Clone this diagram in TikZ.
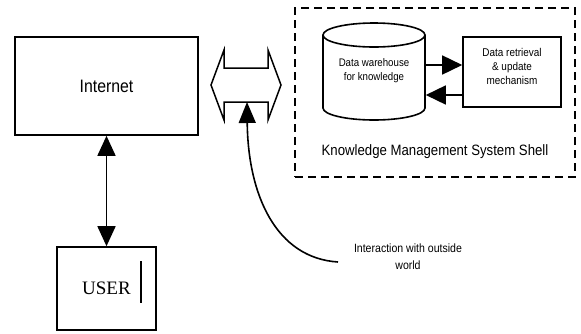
\documentclass[tikz,border=0pt]{standalone}
\usepackage{fontspec}
\setmainfont{Liberation Sans}[FakeStretch=0.88]
\newfontfamily\userfont{Liberation Serif}
\usetikzlibrary{arrows.meta}
\begin{document}
\begin{tikzpicture}[x=1pt,y=-1pt,line width=1.6pt,
  box/.style={draw,inner sep=0pt},
  txt/.style={inner sep=0pt,align=center},
  bigtip/.style={-{Triangle[length=20pt,width=19pt]}},
  dbltip/.style={{Triangle[length=20pt,width=18pt]}-{Triangle[length=20pt,width=18pt]}},
  shell/.style={draw,dash pattern=on 8pt off 5pt,line width=1.8pt}]
\useasboundingbox (0,0) rectangle (581,333);
% Internet and USER
\node[box,minimum width=183pt,minimum height=98pt,font=\fontsize{18}{20}\selectfont] (inet) at (106.5,86) {Internet};
\node[box,minimum width=99pt,minimum height=83pt,font=\userfont\fontsize{19}{22}\selectfont] (user) at (106.5,288.5) {USER};
\draw (141,261) -- (141,303);
\draw[dbltip] (inet.south) -- (user.north);
% Knowledge Management System Shell
\node[shell,minimum width=280pt,minimum height=169pt] (kms) at (435,92.5) {};
\node[txt,font=\fontsize{15}{17}\selectfont] (kmst) at (435,152) {Knowledge Management System Shell};
% cylinder
\draw (374,35) ellipse [x radius=51pt,y radius=12pt];
\draw (323,35) -- (323,108) arc[start angle=180,end angle=360,x radius=51pt,y radius=12pt] -- (425,35);
\node[txt,minimum width=102pt,minimum height=60pt,font=\fontsize{11}{14}\selectfont] (cyl) at (374,71) {Data warehouse\\for knowledge};
% retrieval box
\node[box,minimum width=98pt,minimum height=70pt] (ret) at (512,72) {};
\node[txt,font=\fontsize{11.3}{14}\selectfont] (rett) at (512,66) {Data retrieval\\\& update\\mechanism};
\draw[bigtip] (cyl.east |- 0,65) -- (ret.west |- 0,65);
\draw[bigtip] (ret.west |- 0,95) -- (cyl.east |- 0,95);
% double-headed interface arrow
\draw[line width=1.5pt,line join=miter] (211,85) -- (224,50) -- (224,68) -- (268,68) -- (268,50) -- (281,85)
  -- (268,120) -- (268,102) -- (224,102) -- (224,120) -- cycle;
\coordinate (hexb) at (247,102);
% interaction
\node[txt,font=\fontsize{12}{17}\selectfont] (inter) at (408,256.5) {Interaction with outside\\world};
\coordinate (ia) at (338,262);
\draw[-{Triangle[length=21pt,width=17pt]}] (ia) .. controls (276,258) and (248,195) .. (hexb);
\end{tikzpicture}
\end{document}
